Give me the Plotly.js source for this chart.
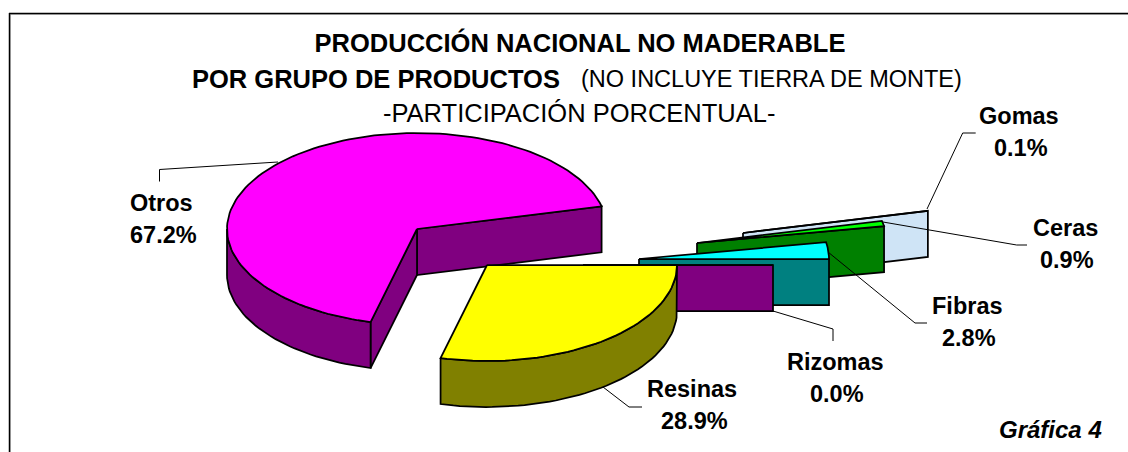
<!DOCTYPE html>
<html><head><meta charset="utf-8">
<script src="https://cdn.plot.ly/plotly-3.0.1.min.js"></script>
<style>html,body{margin:0;padding:0;background:#fff}#c{width:1128px;height:452px}</style>
</head><body><div id="c"></div>
<script>
// Data, in drawing order around the pie
var categories = ['Rizomas','Fibras','Ceras','Gomas','Otros','Resinas'];
var shares = [0.0, 2.8, 0.9, 0.1, 67.2, 28.9];
var titleLine1 = 'PRODUCCIÓN NACIONAL NO MADERABLE';
var titleLine2Bold = 'POR GRUPO DE PRODUCTOS';
var titleLine2Plain = '(NO INCLUYE TIERRA DE MONTE)';
var titleLine3 = '-PARTICIPACIÓN PORCENTUAL-';
var chartNote = 'Gráfica 4';

// Styling: per-slice look and explosion, separate from the data
var topColors  = {Rizomas:'#800080',Fibras:'#00FFFF',Ceras:'#00FF00',Gomas:'#CCCCFF',Otros:'#FF00FF',Resinas:'#FFFF00'};
var wallColors = {Rizomas:'#800080',Fibras:'#008080',Ceras:'#008000',Gomas:'#CFE4F6',Otros:'#800080',Resinas:'#808000'};
var apex = {Otros:[417,229],Resinas:[487,265],Rizomas:[583,265],Fibras:[639,259],Ceras:[697,243],Gomas:[743,233]};
var drawOrder = ['Otros','Gomas','Ceras','Fibras','Rizomas','Resinas'];
var labelPos = {Otros:[161,203],Gomas:[1019,116],Ceras:[1065,228],Fibras:[967,306],Rizomas:[835,362],Resinas:[692,389]};
var RX=190, RY=96, DEPTH=46, TOTAL=shares.reduce(function(a,b){return a+b;},0);

var start={}, end={}, acc=0;
categories.forEach(function(c,i){start[c]=acc/TOTAL*360; acc+=shares[i]; end[c]=acc/TOTAL*360;});
function pt(c,t,dz){var r=t*Math.PI/180;return [apex[c][0]+RX*Math.cos(r), apex[c][1]-RY*Math.sin(r)+(dz||0)];}
function arc(c,a,b,dz){var n=Math.max(2,Math.ceil(Math.abs(b-a)/2)),o=[];for(var i=0;i<=n;i++)o.push(pt(c,a+(b-a)*i/n,dz));return o;}
function poly(name,pts,color){
  pts=pts.concat([pts[0]]);
  return {type:'scatter',mode:'lines',name:name,x:pts.map(function(p){return p[0];}),y:pts.map(function(p){return p[1];}),
    fill:'toself',fillcolor:color,line:{color:'#000',width:1.75,shape:'linear'},hoverinfo:'name',showlegend:false};
}
function radial(c,t){return [apex[c],pt(c,t),pt(c,t,DEPTH),[apex[c][0],apex[c][1]+DEPTH]];}
var traces=[];
drawOrder.forEach(function(c){
  var w=wallColors[c], a=start[c], b=end[c];
  if(c==='Otros'){
    traces.push(poly(c,radial(c,a),w));
    traces.push(poly(c,radial(c,b),w));
    traces.push(poly(c,arc(c,180,b).concat(arc(c,b,180,DEPTH)),w));
  } else if(c==='Resinas'){
    traces.push(poly(c,arc(c,a,b).concat(arc(c,b,a,DEPTH)),w));
  } else {
    traces.push(poly(c,radial(c,a),w));
  }
  traces.push(poly(c,[apex[c]].concat(arc(c,a,b)),topColors[c]));
});

var FONT='"Liberation Sans", Arial, sans-serif';
var annotations=[];
function note(x,y,text,size,anchor){
  annotations.push({xref:'x',yref:'y',x:x,y:y,text:text,showarrow:false,xanchor:anchor||'center',yanchor:'middle',
    borderpad:0,font:{family:FONT,size:size,color:'#000'}});
}
categories.forEach(function(c,i){
  var p=labelPos[c];
  note(p[0],p[1],'<b>'+c+'</b>',23.5);
  note(p[0]+2,p[1]+32,'<b>'+shares[i].toFixed(1)+'%</b>',23.5);
});
note(561,79,'<b>'+titleLine2Bold+'</b>',25.5,'right');
note(580,79,titleLine2Plain,23.5,'left');
note(579,113,titleLine3,25.5);
note(1050.5,429,'<b><i>'+chartNote+'</i></b>',24);

function seg(p){return {type:'path',xref:'x',yref:'y',path:p,line:{color:'#000',width:1},layer:'above'};}
var shapes=[
  {type:'line',xref:'x',yref:'y',x0:9.5,y0:14.5,x1:1128,y1:14.5,line:{color:'#c4c4c4',width:1}},
  {type:'line',xref:'x',yref:'y',x0:10.5,y0:13,x1:10.5,y1:452,line:{color:'#c4c4c4',width:1}},
  {type:'line',xref:'x',yref:'y',x0:9,y0:13.5,x1:1128,y1:13.5,line:{color:'#000',width:1.5}},
  {type:'line',xref:'x',yref:'y',x0:9.5,y0:13,x1:9.5,y1:452,line:{color:'#000',width:1.5}},
  seg('M278,162 L159.5,169.5 L159.5,181.5'),
  seg('M927,209 L962.7,133 L975.7,133'),
  seg('M883,222 L1016.7,245 L1027,245'),
  seg('M828,252 L915,323 L927,323'),
  seg('M773,311 L833,329 L833,341'),
  seg('M603,387 L629,407 L642,407')
];

var layout={
  width:1128,height:452,margin:{l:0,r:0,t:0,b:0,pad:0},paper_bgcolor:'#fff',plot_bgcolor:'#fff',showlegend:false,
  title:{text:'<b>'+titleLine1+'</b>',font:{family:FONT,size:25.5,color:'#000'},x:580/1128,xref:'paper',xanchor:'center',y:1-43/452,yref:'paper',yanchor:'middle'},
  xaxis:{range:[0,1128],visible:false,fixedrange:true},
  yaxis:{range:[452,0],visible:false,fixedrange:true},
  annotations:annotations,shapes:shapes
};
Plotly.newPlot('c',traces,layout,{displayModeBar:false,staticPlot:true});
</script></body></html>
